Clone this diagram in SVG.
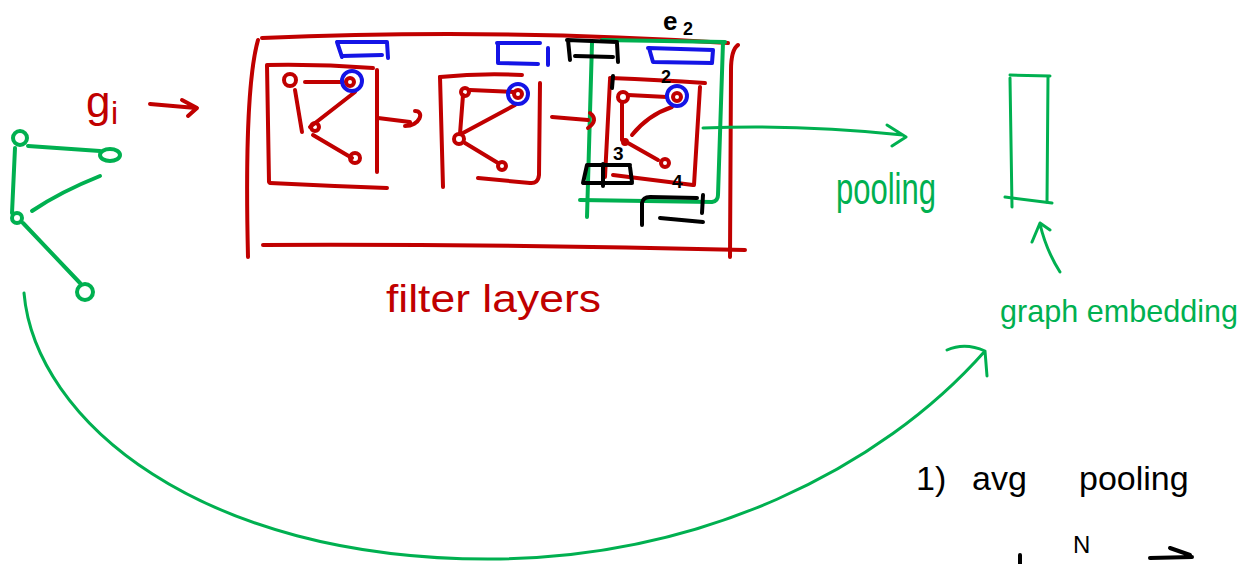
<svg xmlns="http://www.w3.org/2000/svg" width="1251" height="564" viewBox="0 0 1251 564">
  <style>
    path, circle, ellipse { fill: none; stroke-width: 4; stroke-linecap: round; stroke-linejoin: round; }
    .r { stroke: #c00000; }
    .g { stroke: #00b050; }
    .b { stroke: #1414e6; }
    .k { stroke: #000000; }
    .thin { stroke-width: 3; }
    text { font-family: "Liberation Sans", "DejaVu Sans", sans-serif; }
    .tr { fill: #c00000; }
    .tg { fill: #00b050; }
    .tk { fill: #000000; }
  </style>
  <rect width="1251" height="564" fill="#ffffff"/>

  <!-- input graph (green) -->
  <g id="input-graph">
    <circle class="g" cx="20" cy="138" r="7"/>
    <ellipse class="g" cx="110" cy="155" rx="10" ry="6"/>
    <circle class="g" cx="17" cy="218" r="5"/>
    <circle class="g" cx="85" cy="292" r="8"/>
    <path class="g" d="M28,146 L100,151"/>
    <path class="g" d="M15,148 L12,213"/>
    <path class="g" d="M32,211 Q60,192 100,176"/>
    <path class="g" d="M23,223 L80,283"/>
  </g>

  <g id="label-gi">
    <text class="tr" x="86" y="117" font-size="44">g</text>
    <text class="tr" x="111" y="124" font-size="32">i</text>
  </g>

  <!-- filter layers block -->
  <g id="filter-layers">
    <path class="r" d="M262,38 Q495,28 728,43"/>
    <path class="r" d="M258,40 Q244,90 248,257"/>
    <path class="r" d="M263,245 Q500,244 745,250"/>
    <path class="r" d="M738,45 Q731,50 731,70 L730,257"/>
  </g>

  <!-- layer 1 -->
  <g id="layer-1">
    <path class="r" d="M373,68 Q320,64 267,65 L269,182"/>
    <path class="r" d="M270,183 Q330,186 387,188"/>
    <path class="r" d="M377,70 L377,172"/>
    <circle class="r" cx="290" cy="80" r="6"/>
    <circle class="r" cx="350" cy="82" r="4"/>
    <circle class="r" cx="315" cy="127" r="4"/>
    <circle class="r" cx="355" cy="158" r="5"/>
    <path class="r" d="M305,82 L343,82"/>
    <path class="r" d="M295,90 L302,132"/>
    <path class="r" d="M355,92 L310,127"/>
    <path class="r" d="M313,135 L352,158"/>
    <circle class="b" cx="352" cy="81" r="10"/>
    <path class="b" d="M337,42 L387,42 M337,42 L342,57 M342,56 L382,55 M387,42 L388,58"/>
  </g>

  <!-- layer 2 -->
  <g id="layer-2">
    <path class="r" d="M440,77 Q480,73 522,75"/>
    <path class="r" d="M440,77 L443,187"/>
    <path class="r" d="M540,83 L539,175 Q538,184 530,183 L478,178"/>
    <circle class="r" cx="465" cy="92" r="4"/>
    <circle class="r" cx="518" cy="94" r="4"/>
    <circle class="r" cx="459" cy="139" r="5"/>
    <circle class="r" cx="502" cy="166" r="4"/>
    <path class="r" d="M470,90 L514,92"/>
    <path class="r" d="M463,95 L460,134"/>
    <path class="r" d="M463,133 L515,105"/>
    <path class="r" d="M465,143 L498,163"/>
    <circle class="b" cx="518" cy="94" r="10"/>
    <path class="b" d="M497,43 L540,43 M498,43 L498,63 L538,64 M548,48 L548,65"/>
  </g>

  <!-- layer 3 with highlighted edges -->
  <g id="layer-3">
    <path class="g" d="M602,40 L725,42"/>
    <path class="g" d="M592,43 L587,217"/>
    <path class="g" d="M580,200 L712,202 Q718,201 718,195 L723,42"/>
    <path class="r" d="M610,78 Q660,80 705,83"/>
    <path class="r" d="M610,80 L605,177"/>
    <path class="r" d="M700,87 L694,185"/>
    <path class="r" d="M613,175 L693,185"/>
    <circle class="r" cx="623" cy="97" r="5"/>
    <circle class="r" cx="677" cy="97" r="4"/>
    <circle class="r" cx="625" cy="142" r="2"/>
    <circle class="r" cx="665" cy="163" r="4"/>
    <path class="r" d="M628,95 L667,97"/>
    <path class="r" d="M622,102 L622,140"/>
    <path class="r" d="M632,135 Q648,115 672,107"/>
    <path class="r" d="M628,143 L658,160"/>
    <circle class="b" cx="677" cy="96" r="10"/>
    <path class="b" d="M648,48 L713,50 M649,48 L653,62 L712,63 M713,50 L712,63"/>
    <path class="k" d="M567,40 L617,42 M568,40 L570,60 M575,56 L613,57 M617,43 L618,62"/>
    <path class="k" d="M587,165 L630,165 M587,165 L583,183 L632,183 M630,167 L632,182 M603,164 L603,186"/>
    <path class="k" d="M642,225 L642,203 Q643,197 650,197 L697,198 M660,218 L703,222 M703,195 L702,213"/>
    <path class="k" d="M613,76 L612,88"/>
    <text class="tk" x="661" y="83" font-size="18" font-weight="bold">2</text>
    <text class="tk" x="613" y="160" font-size="19" font-weight="bold">3</text>
    <text class="tk" x="672" y="188" font-size="19" font-weight="bold">4</text>
    <text class="tk" x="663" y="30" font-size="26" font-weight="bold">e</text>
    <text class="tk" x="683" y="35" font-size="18" font-weight="bold">2</text>
  </g>

  <text id="label-filter-layers" class="tr" x="386" y="312" font-size="38" textLength="215" lengthAdjust="spacingAndGlyphs">filter layers</text>

  <text id="label-pooling" class="tg" x="836" y="204" font-size="44" textLength="100" lengthAdjust="spacingAndGlyphs">pooling</text>

  <!-- graph embedding vector -->
  <g id="graph-embedding">
    <path class="g thin" d="M1010,75 L1050,76"/>
    <path class="g thin" d="M1010,78 L1012,207"/>
    <path class="g thin" d="M1048,77 L1047,202"/>
    <path class="g thin" d="M1005,197 L1052,203"/>
  </g>
  <text id="label-graph-embedding" class="tg" x="1000" y="322" font-size="32" textLength="238" lengthAdjust="spacingAndGlyphs">graph embedding</text>

  <!-- notes -->
  <g id="notes">
    <text class="tk" font-size="34" y="490"><tspan x="916">1)</tspan><tspan x="972">avg</tspan><tspan x="1079">pooling</tspan></text>
    <text class="tk" x="1073" y="553" font-size="24">N</text>
    <path class="k" d="M1020,555 L1020,564"/>
    <path class="k" d="M1150,558 L1192,557 M1170,548 L1190,555"/>
  </g>

  <!-- connectors -->
  <g id="connectors">
    <path class="r" d="M150,104 L196,108 M182,100 L197,108 L188,116"/>
    <path class="r" d="M378,118 L410,122 M405,126 C420,126 425,111 415,111"/>
    <path class="r" d="M552,117 L588,120 M590,113 Q599,120 588,128"/>
    <path class="g thin" d="M703,128 Q800,124 903,135 M887,125 L906,137 L892,146"/>
    <path class="g thin" d="M1060,272 Q1046,250 1040,224 M1032,242 L1040,223 L1050,230"/>
    <path class="g thin" d="M24,293 C35,420 200,560 491,559 C700,558 880,470 985,351 M947,350 Q965,342 985,351 L987,376"/>
  </g>
</svg>
